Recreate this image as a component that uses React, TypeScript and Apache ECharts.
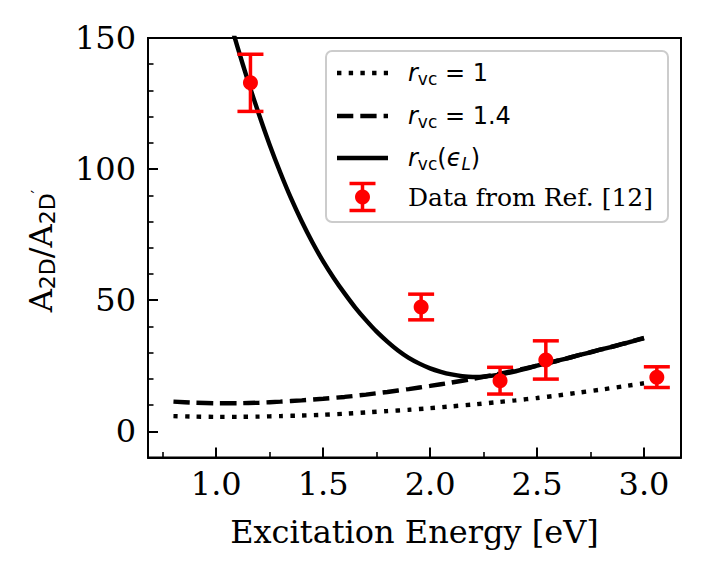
import React, { useEffect, useRef } from "react";
import * as echarts from "echarts";

// Model curves (x = excitation energy in eV)
const curveX = [0.8, 0.9, 1.0, 1.1, 1.2, 1.3, 1.4, 1.5, 1.6, 1.7, 1.8, 1.9, 2.0, 2.1, 2.2, 2.3, 2.4, 2.5, 2.6, 2.7, 2.8, 2.9, 3.0];
const rvc1 = [5.8, 5.6, 5.5, 5.5, 5.6, 5.8, 6.0, 6.3, 6.7, 7.2, 7.7, 8.2, 8.8, 9.5, 10.2, 11.0, 11.8, 12.7, 13.7, 14.8, 15.9, 17.1, 18.3];
const rvc14 = [11.3, 10.9, 10.7, 10.7, 10.9, 11.3, 11.8, 12.4, 13.1, 14.0, 15.0, 16.1, 17.3, 18.6, 20.0, 21.6, 23.2, 25.0, 27.0, 29.1, 31.2, 33.3, 35.6];

const solidX = [1.05, 1.1, 1.15, 1.2, 1.25, 1.3, 1.35, 1.4, 1.45, 1.5, 1.55, 1.6, 1.65, 1.7, 1.75, 1.8, 1.85, 1.9, 1.95, 2.0, 2.05, 2.1, 2.15, 2.2, 2.25, 2.3, 2.35, 2.4, 2.45, 2.5, 2.55, 2.6, 2.65, 2.7, 2.75, 2.8, 2.85, 2.9, 2.95, 3.0];
const solidY = [160.4, 146.4, 133.2, 120.8, 109.2, 98.6, 88.8, 80.0, 72.0, 64.8, 58.4, 52.6, 47.2, 42.4, 38.0, 34.2, 30.8, 28.0, 25.8, 24.0, 22.7, 21.7, 21.0, 20.7, 20.8, 21.3, 22.0, 22.9, 23.9, 25.0, 26.0, 27.0, 28.0, 29.1, 30.1, 31.2, 32.2, 33.3, 34.4, 35.4];

// Experimental data
const dataX = [1.16, 1.958, 2.327, 2.541, 3.06];
const dataY = [132.9, 47.4, 19.3, 27.2, 20.65];
const dataErr = [10.9, 4.9, 5.1, 7.3, 3.95];

// Axis settings and tick values
const xMin = 0.681;
const xMax = 3.173;
const yMin = -10;
const yMax = 150;
const xMajor = [1.0, 1.5, 2.0, 2.5, 3.0];
const xMinor = [0.75, 1.25, 1.75, 2.25, 2.75];
const yMajor = [0, 50, 100, 150];
const yMinor = [-10, 10, 20, 30, 40, 60, 70, 80, 90, 110, 120, 130, 140];

const SERIF = "DejaVu Serif";
const SANS = "DejaVu Sans";
const LW = 4.4;

export default function App() {
  const ref = useRef<HTMLDivElement>(null);

  useEffect(() => {
    document.body.style.margin = "0";
    if (!ref.current) return;
    const chart = echarts.init(ref.current, undefined, { renderer: "svg" });

    const gridRect = { left: 148, top: 38, right: 26, bottom: 118.5 };

    const richLegend = {
      r: { fontFamily: SANS, fontStyle: "italic", fontSize: 24, color: "#000" },
      s: { fontFamily: SANS, fontSize: 17, color: "#000", padding: [11, 0, 0, 0] },
      n: { fontFamily: SANS, fontSize: 24, color: "#000" },
      e: { fontFamily: SANS, fontStyle: "italic", fontSize: 24, color: "#000" },
      ls: { fontFamily: SANS, fontStyle: "italic", fontSize: 17, color: "#000", padding: [11, 0, 0, 0] },
    };

    const rowY = [73, 116, 158, 197];
    const lx1 = 337;
    const lx2 = 388;
    const tx = 408;

    const tickStyle = { color: "#000", width: 2 };

    const option: any = {
      animation: false,
      grid: [
        { ...gridRect, show: true, borderColor: "#000", borderWidth: 2, backgroundColor: "transparent", containLabel: false },
        { ...gridRect, show: false, containLabel: false },
      ],
      xAxis: [
        {
          type: "value",
          gridIndex: 0,
          min: xMin,
          max: xMax,
          name: "Excitation Energy [eV]",
          nameLocation: "middle",
          nameGap: 58,
          nameTextStyle: { fontFamily: SERIF, fontSize: 32, color: "#000" },
          axisLine: { show: true, onZero: false, lineStyle: { color: "#000", width: 2 } },
          axisTick: { show: true, inside: true, length: 10, lineStyle: tickStyle, customValues: xMajor },
          axisLabel: {
            fontFamily: SERIF,
            fontSize: 32,
            color: "#000",
            margin: 10,
            customValues: xMajor,
            formatter: (v: number) => v.toFixed(1),
          },
          splitLine: { show: false },
        },
        {
          type: "value",
          gridIndex: 1,
          min: xMin,
          max: xMax,
          axisLine: { show: false, onZero: false },
          axisTick: { show: true, inside: true, length: 5.5, lineStyle: { color: "#000", width: 1.6 }, customValues: xMinor },
          axisLabel: { show: false },
          splitLine: { show: false },
        },
      ],
      yAxis: [
        {
          type: "value",
          gridIndex: 0,
          min: yMin,
          max: yMax,
          axisLine: { show: true, onZero: false, lineStyle: { color: "#000", width: 2 } },
          axisTick: { show: true, inside: true, length: 10, lineStyle: tickStyle, customValues: yMajor },
          axisLabel: {
            fontFamily: SERIF,
            fontSize: 32,
            color: "#000",
            margin: 12,
            customValues: yMajor,
            formatter: (v: number) => String(v),
          },
          splitLine: { show: false },
        },
        {
          type: "value",
          gridIndex: 1,
          min: yMin,
          max: yMax,
          axisLine: { show: false, onZero: false },
          axisTick: { show: true, inside: true, length: 5.5, lineStyle: { color: "#000", width: 1.6 }, customValues: yMinor },
          axisLabel: { show: false },
          splitLine: { show: false },
        },
      ],
      series: [
        {
          name: "rvc = 1",
          type: "line",
          xAxisIndex: 0,
          yAxisIndex: 0,
          data: curveX.map((x, i) => [x, rvc1[i]]),
          showSymbol: false,
          symbol: "none",
          smooth: 0.2,
          lineStyle: { color: "#000", width: LW, type: [LW, 7.3], cap: "butt" },
          z: 2,
        },
        {
          name: "rvc = 1.4",
          type: "line",
          xAxisIndex: 0,
          yAxisIndex: 0,
          data: curveX.map((x, i) => [x, rvc14[i]]),
          showSymbol: false,
          symbol: "none",
          smooth: 0.2,
          lineStyle: { color: "#000", width: LW, type: [16.3, 7.0], cap: "butt" },
          z: 2,
        },
        {
          name: "rvc(eL)",
          type: "line",
          xAxisIndex: 0,
          yAxisIndex: 0,
          data: solidX.map((x, i) => [x, solidY[i]]),
          showSymbol: false,
          symbol: "none",
          smooth: 0.3,
          clip: true,
          lineStyle: { color: "#000", width: LW, join: "round" },
          z: 3,
        },
        {
          name: "errors",
          type: "custom",
          xAxisIndex: 0,
          yAxisIndex: 0,
          encode: { x: 0, y: [1, 2] },
          data: dataX.map((x, i) => [x, dataY[i] - dataErr[i], dataY[i] + dataErr[i]]),
          renderItem: (_params: any, api: any) => {
            const lo = api.coord([api.value(0), api.value(1)]);
            const hi = api.coord([api.value(0), api.value(2)]);
            const hw = 13;
            const style = { stroke: "#ff0000", lineWidth: 3.5 };
            return {
              type: "group",
              children: [
                { type: "line", shape: { x1: lo[0], y1: lo[1], x2: hi[0], y2: hi[1] }, style },
                { type: "line", shape: { x1: lo[0] - hw, y1: lo[1], x2: lo[0] + hw, y2: lo[1] }, style },
                { type: "line", shape: { x1: hi[0] - hw, y1: hi[1], x2: hi[0] + hw, y2: hi[1] }, style },
              ],
            };
          },
          z: 5,
        },
        {
          name: "Data from Ref. [12]",
          type: "scatter",
          xAxisIndex: 0,
          yAxisIndex: 0,
          data: dataX.map((x, i) => [x, dataY[i]]),
          symbol: "circle",
          symbolSize: 15,
          itemStyle: { color: "#ff0000", opacity: 1 },
          z: 6,
        },
      ],
      graphic: [
        {
          type: "text",
          x: 41,
          y: 251,
          rotation: Math.PI / 2,
          style: {
            text: "{a|A}{s|2D}{a|/A}{s|2D}{p|′}",
            align: "center",
            verticalAlign: "middle",
            rich: {
              a: { fontFamily: SERIF, fontSize: 32, color: "#000" },
              s: { fontFamily: SANS, fontSize: 22, color: "#000", padding: [13, 0, 0, 0] },
              p: { fontFamily: SANS, fontSize: 16, color: "#000", padding: [0, 0, 8, 0] },
            },
          },
          z: 10,
        },
        {
          type: "rect",
          shape: { x: 326, y: 51, width: 342, height: 171, r: 6 },
          style: { fill: "rgba(255,255,255,0.8)", stroke: "#cccccc", lineWidth: 2 },
          z: 20,
        },
        {
          type: "line",
          shape: { x1: lx1, y1: rowY[0], x2: lx2, y2: rowY[0] },
          style: { stroke: "#000", lineWidth: LW, lineDash: [LW, 7.3], lineCap: "butt" },
          z: 21,
        },
        {
          type: "line",
          shape: { x1: lx1, y1: rowY[1], x2: lx2, y2: rowY[1] },
          style: { stroke: "#000", lineWidth: LW, lineDash: [16.3, 7.0], lineCap: "butt" },
          z: 21,
        },
        {
          type: "line",
          shape: { x1: lx1, y1: rowY[2], x2: lx2, y2: rowY[2] },
          style: { stroke: "#000", lineWidth: LW },
          z: 21,
        },
        {
          type: "line",
          shape: { x1: 362.5, y1: rowY[3] - 13.5, x2: 362.5, y2: rowY[3] + 13.5 },
          style: { stroke: "#ff0000", lineWidth: 3.5 },
          z: 21,
        },
        {
          type: "line",
          shape: { x1: 349.5, y1: rowY[3] - 13.5, x2: 375.5, y2: rowY[3] - 13.5 },
          style: { stroke: "#ff0000", lineWidth: 3.5 },
          z: 21,
        },
        {
          type: "line",
          shape: { x1: 349.5, y1: rowY[3] + 13.5, x2: 375.5, y2: rowY[3] + 13.5 },
          style: { stroke: "#ff0000", lineWidth: 3.5 },
          z: 21,
        },
        {
          type: "circle",
          shape: { cx: 362.5, cy: rowY[3], r: 7.5 },
          style: { fill: "#ff0000" },
          z: 22,
        },
        {
          type: "text",
          x: tx,
          y: rowY[0],
          style: { text: "{r|r}{s|vc}{n| = 1}", verticalAlign: "middle", rich: richLegend },
          z: 22,
        },
        {
          type: "text",
          x: tx,
          y: rowY[1],
          style: { text: "{r|r}{s|vc}{n| = 1.4}", verticalAlign: "middle", rich: richLegend },
          z: 22,
        },
        {
          type: "text",
          x: tx,
          y: rowY[2],
          style: { text: "{r|r}{s|vc}{n|(}{e|ϵ}{ls|L}{n|)}", verticalAlign: "middle", rich: richLegend },
          z: 22,
        },
        {
          type: "text",
          x: tx,
          y: rowY[3],
          style: { text: "Data from Ref. [12]", fontFamily: SERIF, fontSize: 25, fill: "#000", verticalAlign: "middle" },
          z: 22,
        },
      ],
    };

    chart.setOption(option);
    return () => chart.dispose();
  }, []);

  return <div ref={ref} style={{ width: 707, height: 576 }} />;
}
